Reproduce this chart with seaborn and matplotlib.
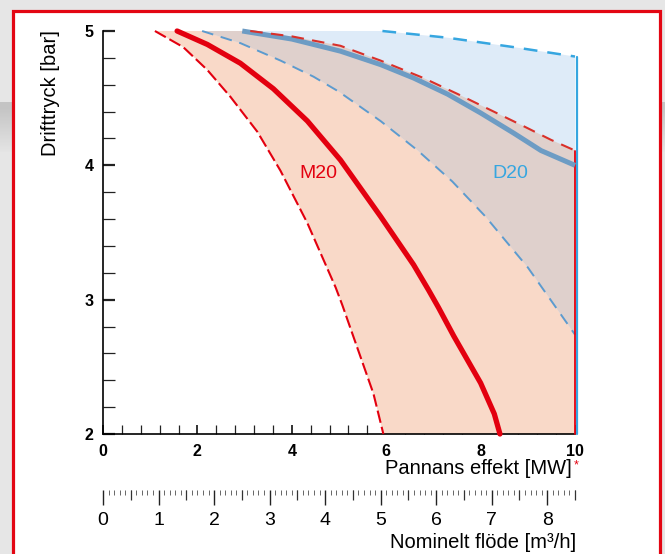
import numpy as np
import matplotlib
matplotlib.use("Agg")
import matplotlib.pyplot as plt
import matplotlib.transforms as mtransforms
import seaborn as sns
from matplotlib.patches import Rectangle
from matplotlib.ticker import MultipleLocator, FixedLocator, FormatStrFormatter, NullFormatter

# ---------------- data ----------------
# M20 nominal curve (solid red)
m20_x = [1.57, 2.21, 2.91, 3.61, 4.33, 5.03, 5.88, 6.58, 6.90, 7.11, 7.43, 8.00, 8.29, 8.41]
m20_y = [5.00, 4.90, 4.76, 4.57, 4.33, 4.04, 3.62, 3.26, 3.07, 2.94, 2.73, 2.38, 2.15, 2.00]
# M20 lower limit (dashed red)
m20_lo_x = [1.10, 1.70, 2.21, 2.70, 3.27, 3.76, 4.33, 4.93, 5.07, 5.31, 5.73, 5.94]
m20_lo_y = [5.00, 4.88, 4.71, 4.51, 4.25, 3.96, 3.57, 3.09, 2.96, 2.72, 2.30, 2.00]
# M20 upper limit (dashed red)
m20_up_x = [3.12, 4.00, 5.03, 5.88, 6.79, 7.52, 8.22, 8.92, 9.49, 10.0]
m20_up_y = [5.00, 4.96, 4.89, 4.78, 4.65, 4.53, 4.41, 4.29, 4.19, 4.11]
# D20 nominal curve (solid steel blue)
d20_x = [2.95, 4.00, 5.03, 5.88, 6.58, 7.30, 8.00, 8.70, 9.28, 10.0]
d20_y = [5.00, 4.94, 4.85, 4.75, 4.65, 4.53, 4.39, 4.24, 4.11, 4.00]
# D20 lower limit (dashed blue)
d20_lo_x = [2.10, 2.91, 3.76, 4.46, 4.99, 5.88, 6.67, 7.40, 8.10, 9.00, 10.0]
d20_lo_y = [5.00, 4.91, 4.78, 4.66, 4.55, 4.33, 4.11, 3.88, 3.62, 3.24, 2.74]
# D20 upper limit (dashed sky blue)
d20_up_x = [5.92, 7.30, 8.70, 10.0]
d20_up_y = [5.00, 4.95, 4.88, 4.81]

x_max_mw = 10.0
y_min, y_max = 2.0, 5.0
flow_max = 8.5
mw_ticks = [0, 2, 4, 6, 8, 10]
bar_ticks = [2, 3, 4, 5]
flow_ticks = [0, 1, 2, 3, 4, 5, 6, 7, 8]

RED = "#e3000f"
RED2 = "#d9302a"
STEEL = "#6d9cc4"
BLUE_D = "#5c9bcf"
SKY = "#36a6e0"
SALMON = "#f9d9c8"
LBLUE = "#deebf8"
OVERLAP = "#dfd0cc"

# ---------------- figure ----------------
sns.set_theme(style="white")
plt.rcParams["font.family"] = ["Liberation Sans", "DejaVu Sans"]
plt.rcParams["text.color"] = "black"

W, H = 665, 554
fig = plt.figure(figsize=(W / 100, H / 100), dpi=100)
fig.patch.set_facecolor("#e6e6e6")

# background (page look)
bg = fig.add_axes([0, 0, 1, 1], zorder=-10)
bg.set_xlim(0, W)
bg.set_ylim(H, 0)
bg.axis("off")
rows = np.full(H, 230.0)
rows[102:107] = 196
rows[107:152] = np.linspace(196, 228, 45)
img = np.repeat(rows[:, None], 4, axis=1) / 255.0
bg.imshow(np.dstack([img, img, img]), extent=[0, W, H, 0], aspect="auto", zorder=0)
bg.add_patch(Rectangle((13, 11), 647, 620, facecolor="white", edgecolor="#e30613",
                       linewidth=2.3, zorder=1))

# main axes
ax = fig.add_axes([103 / W, (H - 434) / H, 472 / W, 403 / H])
ax.patch.set_alpha(0)
ax.set_xlim(0, x_max_mw)
ax.set_ylim(y_min, y_max)

# fills
ax.fill(np.r_[m20_up_x, x_max_mw, m20_lo_x[::-1]], np.r_[m20_up_y, y_min, m20_lo_y[::-1]],
        color=SALMON, lw=0, zorder=1)
ax.fill(np.r_[d20_up_x, d20_lo_x[::-1]], np.r_[d20_up_y, d20_lo_y[::-1]],
        color=LBLUE, lw=0, zorder=1)
ax.fill(np.r_[m20_up_x, d20_lo_x[::-1]], np.r_[m20_up_y, d20_lo_y[::-1]],
        color=OVERLAP, lw=0, zorder=2)

common = dict(ax=ax, estimator=None, sort=False, legend=False)
sns.lineplot(x=m20_lo_x, y=m20_lo_y, color=RED, lw=1.5, linestyle=(0, (6, 2)), zorder=3, **common)
sns.lineplot(x=d20_lo_x, y=d20_lo_y, color=BLUE_D, lw=1.4, linestyle=(0, (6, 4)), zorder=3, **common)
sns.lineplot(x=d20_up_x, y=d20_up_y, color=SKY, lw=1.8, linestyle=(0, (5.5, 4)), zorder=3, **common)
# vertical limits at 10 MW (blue drawn just to the right of the red one)
n0 = len(ax.lines)
sns.lineplot(x=[x_max_mw, x_max_mw], y=[d20_up_y[-1], y_min], color=SKY, lw=1.6, zorder=3, **common)
blue_vert = ax.lines[n0]
blue_vert.set_transform(mtransforms.offset_copy(ax.transData, fig=fig, x=1.2, y=0, units="points"))
sns.lineplot(x=[x_max_mw, x_max_mw], y=[m20_up_y[-1], y_min], color=RED, lw=1.3, zorder=4, **common)
sns.lineplot(x=m20_x, y=m20_y, color=RED, lw=3.8, solid_capstyle="round",
             solid_joinstyle="round", zorder=5, **common)
sns.lineplot(x=d20_x, y=d20_y, color=STEEL, lw=3.6, solid_capstyle="butt",
             solid_joinstyle="round", zorder=5, **common)
sns.lineplot(x=m20_up_x, y=m20_up_y, color=RED2, lw=1.5, linestyle=(0, (6, 4)), zorder=6, **common)

for ln in ax.lines:
    ln.set_clip_on(False)

ax.text(4.56, 3.94, "M20", color=RED, fontsize=14, ha="center", va="center")
ax.text(8.62, 3.94, "D20", color=SKY, fontsize=14, ha="center", va="center")

# spines / ticks
for s in ["top", "right"]:
    ax.spines[s].set_visible(False)
for s in ["left", "bottom"]:
    ax.spines[s].set_color("black")
    ax.spines[s].set_linewidth(1.2)
ax.xaxis.set_major_locator(FixedLocator(mw_ticks))
ax.xaxis.set_minor_locator(MultipleLocator(0.4))
ax.yaxis.set_major_locator(FixedLocator(bar_ticks))
ax.yaxis.set_minor_locator(MultipleLocator(0.2))
ax.xaxis.set_major_formatter(FormatStrFormatter("%d"))
ax.yaxis.set_major_formatter(FormatStrFormatter("%d"))
ax.tick_params(axis="x", which="both", direction="in", length=6.5, bottom=True, colors="#222",
               labelcolor="black", pad=7)
ax.tick_params(axis="x", which="major", width=1.3)
ax.tick_params(axis="x", which="minor", width=0.9)
ax.tick_params(axis="y", which="both", direction="in", length=8.6, left=True, colors="#222",
               labelcolor="black", pad=7)
ax.tick_params(axis="y", which="major", width=1.6)
ax.tick_params(axis="y", which="minor", width=0.9)
for lab in ax.get_xticklabels() + ax.get_yticklabels():
    lab.set_fontweight("bold")
    lab.set_fontsize(11.5)

# flow scale
rect2 = [103 / W, (H - 490) / H, 472 / W, 0.0001]
ax2 = fig.add_axes(rect2)
ax3 = fig.add_axes(rect2)
for a in (ax2, ax3):
    a.patch.set_alpha(0)
    a.set_xlim(0, flow_max)
    a.set_yticks([])
    for s in a.spines.values():
        s.set_visible(False)
ax2.xaxis.set_major_locator(FixedLocator(flow_ticks))
ax2.xaxis.set_minor_locator(MultipleLocator(0.1))
ax2.xaxis.set_major_formatter(FormatStrFormatter("%d"))
ax2.tick_params(axis="x", which="major", direction="out", length=10.8, width=1.0, colors="#222",
                labelcolor="black", labelsize=14, pad=5, bottom=True)
ax2.tick_params(axis="x", which="minor", direction="out", length=3.6, width=0.7, colors="#666",
                bottom=True)
ax3.xaxis.set_major_locator(FixedLocator(np.arange(0.5, flow_max + 0.01, 1.0)))
ax3.xaxis.set_major_formatter(NullFormatter())
ax3.tick_params(axis="x", which="major", direction="out", length=7.2, width=0.9, colors="#333",
                bottom=True)

# axis titles
fig.text(50 / W, 1 - 30 / H, "Drifttryck [bar]", rotation=90, ha="center", va="top",
         fontsize=14.5, color="black")
fig.text(572 / W, 1 - 469 / H, "Pannans effekt [MW]", ha="right", va="center",
         fontsize=14.5, color="black")
fig.text(574 / W, 1 - 465 / H, "*", ha="left", va="center", fontsize=9, color=RED)
fig.text(576 / W, 1 - 543 / H, "Nominelt flöde [m³/h]", ha="right", va="center",
         fontsize=14.5, color="black")

fig.savefig("out.png", dpi=100, facecolor=fig.get_facecolor())
